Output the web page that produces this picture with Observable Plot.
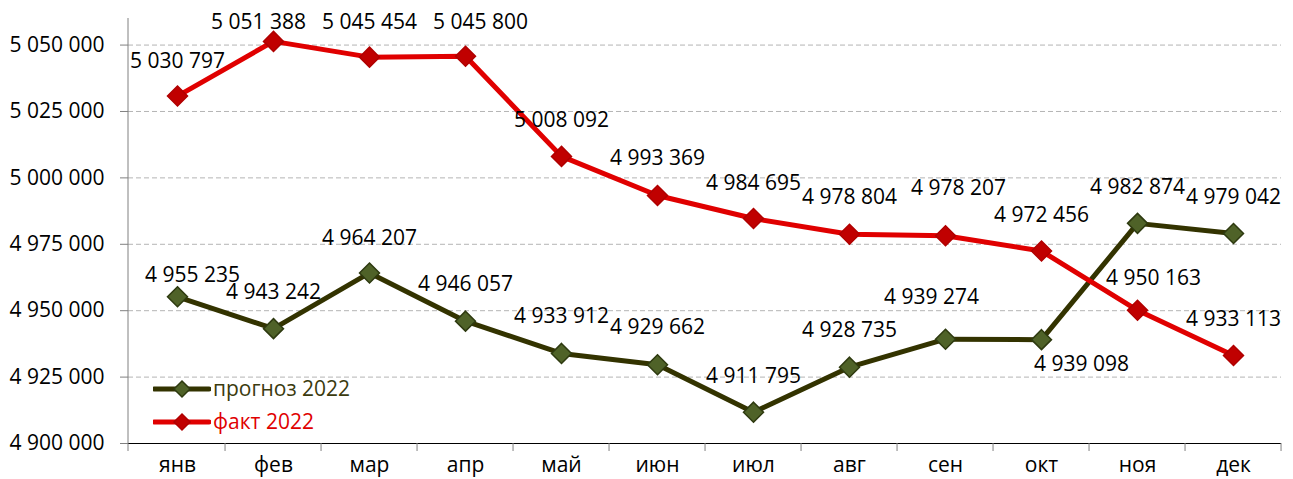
<!DOCTYPE html>
<html>
<head>
<meta charset="utf-8">
<script src="https://cdn.jsdelivr.net/npm/d3@7"></script>
<script src="https://cdn.jsdelivr.net/npm/@observablehq/plot@0.6"></script>
<style>
  html, body { margin: 0; padding: 0; background: #fff; }
  #wrap { position: relative; width: 1293px; height: 479px; font-family: "Open Sans", sans-serif; }
  #legend { position: absolute; left: 153px; top: 372px; font-size: 21px; line-height: 33px; }
  #legend .row { display: flex; align-items: center; height: 33px; }
  #legend svg { display: block; margin-right: 2px; }
</style>
</head>
<body>
<div id="wrap"><div id="legend"></div></div>
<script>
const months = ["янв","фев","мар","апр","май","июн","июл","авг","сен","окт","ноя","дек"];
const forecast = [4955235,4943242,4964207,4946057,4933912,4929662,4911795,4928735,4939274,4939098,4982874,4979042];
const actual = [5030797,5051388,5045454,5045800,5008092,4993369,4984695,4978804,4978207,4972456,4950163,4933113];
const seriesNames = ["прогноз 2022","факт 2022"];
const yTicks = [4900000,4925000,4950000,4975000,5000000,5025000,5050000];

// label offsets in px (placement config, not data)
const forecastLabelOffsets = [[15,-22],[0,-36],[0,-35],[0,-37],[0,-37],[0,-37],[0,-36],[0,-37],[-14,-42],[40,25],[0,-36],[0,-36]];
const actualLabelOffsets = [[0,-35],[-15,-19],[0,-35],[15,-34],[0,-36],[0,-37],[0,-35],[0,-37],[13,-47],[0,-36],[16,-32],[0,-36]];

const styles = {
  [seriesNames[0]]: {line: "#333300", fill: "#4f6228", stroke: "#2e3a10", text: "#3b3b0e"},
  [seriesNames[1]]: {line: "#e00000", fill: "#c00000", stroke: "#b00000", text: "#e00000"}
};

const fmt = d3.formatLocale({decimal: ",", thousands: " ", grouping: [3], currency: ["", ""]}).format(",d");

const rows = [];
months.forEach((m, i) => rows.push({month: m, value: forecast[i], series: seriesNames[0], i}));
months.forEach((m, i) => rows.push({month: m, value: actual[i], series: seriesNames[1], i}));

const W = 1293, H = 479, ML = 128, MR = 12, MT = 18, MB = 36;

const boundaryTicks = (index, scales, values, dim) => {
  const g = d3.create("svg:g").attr("stroke-width", 1);
  const step = (dim.width - dim.marginLeft - dim.marginRight) / months.length;
  const yb = dim.height - dim.marginBottom;
  g.append("line").attr("x1", dim.marginLeft).attr("x2", dim.marginLeft)
    .attr("y1", dim.marginTop).attr("y2", yb + 8).attr("stroke", "#808080");
  months.forEach(m => {
    const x = scales.x(m) + step / 2;
    g.append("line").attr("x1", x).attr("x2", x).attr("y1", yb).attr("y2", yb + 8).attr("stroke", "#808080");
  });
  return g.node();
};

const labelMarks = [];
rows.forEach(r => {
  const off = (r.series === seriesNames[0] ? forecastLabelOffsets : actualLabelOffsets)[r.i];
  labelMarks.push(Plot.text([r], {
    x: "month", y: "value", text: d => fmt(d.value),
    dx: off[0], dy: off[1], fill: "#000", fontSize: 21
  }));
});

const chart = Plot.plot({
  width: W, height: H,
  marginLeft: ML, marginRight: MR, marginTop: MT, marginBottom: MB,
  style: {fontFamily: "'Open Sans', sans-serif", fontSize: "21px", color: "#000", background: "transparent"},
  x: {type: "point", domain: months, padding: 0.5, align: 0.5},
  y: {domain: [4900000, 5060000]},
  marks: [
    Plot.ruleY(yTicks.slice(1), {stroke: "#b4b4b4", strokeDasharray: "5,3", strokeWidth: 1}),
    Plot.ruleY([yTicks[0]], {stroke: "#000", strokeWidth: 1}),
    boundaryTicks,
    Plot.axisY({ticks: yTicks, tickFormat: fmt, tickSize: 8, tickPadding: 16, stroke: "#808080", fontSize: 21, label: null}),
    Plot.axisX({tickSize: 0, tickPadding: 14, fontSize: 21, label: null}),
    Plot.line(rows, {x: "month", y: "value", z: "series", stroke: d => styles[d.series].line, strokeWidth: 5, strokeLinejoin: "round"}),
    Plot.dot(rows, {x: "month", y: "value", symbol: "diamond2", r: 9, fill: d => styles[d.series].fill, stroke: d => styles[d.series].stroke, strokeWidth: 1.5}),
    ...labelMarks
  ]
});

const wrap = document.getElementById("wrap");
wrap.insertBefore(chart, wrap.firstChild);

const legend = document.getElementById("legend");
seriesNames.forEach(name => {
  const s = styles[name];
  const row = document.createElement("div");
  row.className = "row";
  row.innerHTML = `<svg width="58" height="20"><line x1="1" y1="10" x2="56" y2="10" stroke="${s.line}" stroke-width="5" stroke-linecap="round"/><path d="M29,2 L37,10 L29,18 L21,10 Z" fill="${s.fill}" stroke="${s.stroke}" stroke-width="1.5"/></svg><span style="color:${s.text}">${name}</span>`;
  legend.appendChild(row);
});
</script>
</body>
</html>
